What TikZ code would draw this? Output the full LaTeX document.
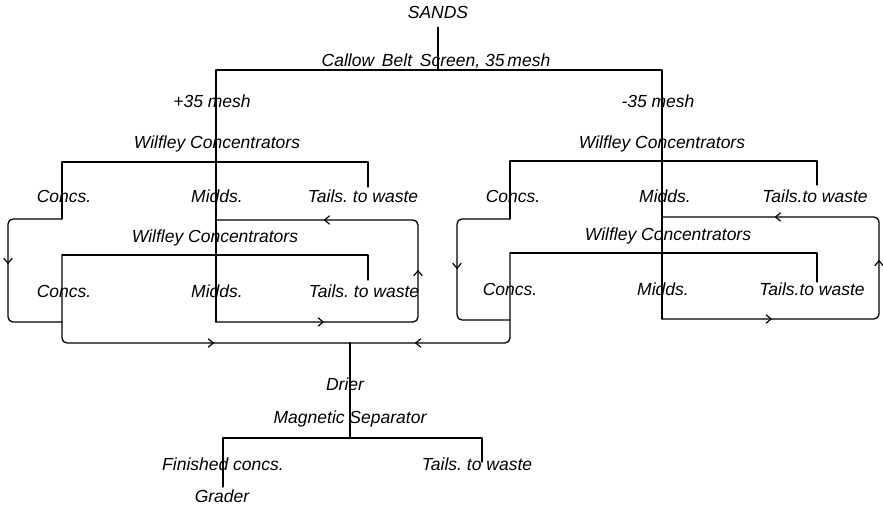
\documentclass[tikz,border=0pt]{standalone}
\usepackage{fontspec}
\setmainfont{Liberation Sans}
\usetikzlibrary{arrows.meta,decorations.markings}
\frenchspacing
\tikzset{
  flowtip/.tip={Straight Barb[length=5pt,width=8.5pt,line width=1.2pt]},
  lbl/.style={inner sep=0pt, anchor=base, font=\itshape\fontsize{17.5}{19}\selectfont},
  flow/.style={line width=1.3pt, line join=round, line cap=round},
  bendline/.style={flow, rounded corners=5pt},
  tips/.style={postaction={decorate}, decoration={markings, #1}}
}
\begin{document}
\begin{tikzpicture}[x=1pt,y=-1pt]
\useasboundingbox (0,0) rectangle (883,524);
% ---- labels ----
\node[lbl] (sands)    at (438,19)  {SANDS};
\node[lbl] (callow)   at (436,67)  {Callow\ \,Belt\ \,Screen,\ 35\,mesh};
\node[lbl] (plus35)   at (212,108) {+35 mesh};
\node[lbl] (minus35)  at (658,108) {-35 mesh};
\node[lbl] (wilA)     at (217,148) {Wilfley Concentrators};
\node[lbl] (concsA)   at (64,202)  {Concs.};
\node[lbl] (middsA)   at (217,202) {Midds.};
\node[lbl] (tailsA)   at (363,202) {Tails. to waste};
\node[lbl] (wilB)     at (215,242) {Wilfley Concentrators};
\node[lbl] (concsB)   at (64,297)  {Concs.};
\node[lbl] (middsB)   at (217,297) {Midds.};
\node[lbl] (tailsB)   at (364,297) {Tails. to waste};
\node[lbl] (wilC)     at (662,148) {Wilfley Concentrators};
\node[lbl] (concsC)   at (513,202) {Concs.};
\node[lbl] (middsC)   at (665,202) {Midds.};
\node[lbl] (tailsC)   at (815,202) {Tails.to waste};
\node[lbl] (wilD)     at (668,240) {Wilfley Concentrators};
\node[lbl] (concsD)   at (510,295) {Concs.};
\node[lbl] (middsD)   at (663,295) {Midds.};
\node[lbl] (tailsD)   at (812,295) {Tails.to waste};
\node[lbl] (drier)    at (345,390) {Drier};
\node[lbl] (magsep)   at (350,423) {Magnetic Separator};
\node[lbl] (finished) at (223,470) {Finished concs.};
\node[lbl] (tailsE)   at (477,470) {Tails. to waste};
\node[lbl] (grader)   at (222,502) {Grader};
% ---- junction points ----
\coordinate (T)  at (438,70);
\coordinate (TL) at (216,70);
\coordinate (TR) at (662,70);
\coordinate (LM1) at (216,322); \coordinate (LM2) at (418,322);
\coordinate (LM3) at (418,220); \coordinate (LM4) at (216,220);
\coordinate (A1) at (62,162);  \coordinate (A2) at (368,162); \coordinate (A3) at (368,187);
\coordinate (A4) at (62,219);  \coordinate (A5) at (8,219);   \coordinate (A6) at (8,322);
\coordinate (A7) at (62,322);
\coordinate (B1) at (62,255);  \coordinate (B2) at (368,255); \coordinate (B3) at (368,280);
\coordinate (B4) at (62,343);
\coordinate (M)  at (350,343);
\coordinate (RM1) at (662,319); \coordinate (RM2) at (879,319);
\coordinate (RM3) at (879,217); \coordinate (RM4) at (662,217);
\coordinate (C1) at (510,161); \coordinate (C2) at (817,161); \coordinate (C3) at (817,185);
\coordinate (C4) at (510,219); \coordinate (C5) at (457,219); \coordinate (C6) at (457,320);
\coordinate (C7) at (510,320);
\coordinate (D1) at (510,253); \coordinate (D2) at (817,253); \coordinate (D3) at (817,282);
\coordinate (D4) at (510,343);
\coordinate (E)  at (350,438);
\coordinate (E1) at (223,438); \coordinate (E2) at (482,438);
\coordinate (E3) at (223,487); \coordinate (E4) at (482,462);
% ---- connectors ----
\draw[flow] ([yshift=-8pt]sands.south) -- (T);
\draw[flow] (TL) -- (TR);
% left side
\draw[flow] (TL) -- (LM1);
\draw[bendline, tips={mark=at position 108pt with {\arrow{flowtip}},
                  mark=at position 252pt with {\arrow{flowtip}},
                  mark=at position 394pt with {\arrow{flowtip}}}]
  (LM1) -- (LM2) -- (LM3) -- (LM4);
\draw[flow] (A3) -- (A2) -- (A1) -- (A4);
\draw[bendline, tips={mark=at position 97pt with {\arrow{flowtip}}}]
  (A4) -- (A5) -- (A6) -- (A7);
\draw[flow] (B3) -- (B2) -- (B1);
\draw[bendline, tips={mark=at position 238pt with {\arrow{flowtip}}}]
  (B1) -- (B4) -- (M);
% right side
\draw[flow] (TR) -- (RM1);
\draw[bendline, tips={mark=at position 110pt with {\arrow{flowtip}},
                  mark=at position 274pt with {\arrow{flowtip}},
                  mark=at position 419pt with {\arrow{flowtip}}}]
  (RM1) -- (RM2) -- (RM3) -- (RM4);
\draw[flow] (C3) -- (C2) -- (C1) -- (C4);
\draw[bendline, tips={mark=at position 101pt with {\arrow{flowtip}}}]
  (C4) -- (C5) -- (C6) -- (C7);
\draw[flow] (D3) -- (D2) -- (D1);
\draw[bendline, tips={mark=at position 183pt with {\arrow{flowtip}}}]
  (D1) -- (D4) -- (M);
% bottom
\draw[flow] (M) -- (E);
\draw[flow] (E3) -- (E1) -- (E2) -- (E4);
\end{tikzpicture}
\end{document}
